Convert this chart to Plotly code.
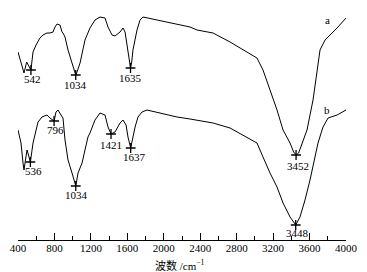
import plotly.graph_objects as go

# Curve a (wavenumber cm-1, relative transmittance)
wn_a = [400, 433, 450, 466, 495, 515, 542, 565, 598, 641, 674, 718, 751, 784, 806, 828, 861, 883, 894, 916,
        949, 993, 1022, 1034, 1048, 1081, 1135, 1190, 1245, 1300, 1355, 1388, 1432, 1465, 1520, 1553, 1575,
        1607, 1625, 1635, 1648, 1662, 1706, 1739, 1772, 1827, 1959, 2145, 2288, 2365, 2541, 2727, 2914,
        3023, 3089, 3166, 3243, 3309, 3386, 3425, 3452, 3480, 3517, 3572, 3638, 3682, 3715, 3770, 3825,
        3902, 4000]
t_a = [188, 178, 173, 167, 178, 174, 170, 188, 195, 202, 205, 207, 207, 208, 213, 216, 215, 208, 207, 203,
       190, 177, 170, 165, 168, 177, 200, 212, 220, 223, 222, 213, 205, 204, 208, 212, 208,
       190, 177, 172, 178, 190, 210, 220, 223, 222, 219, 216, 213, 210, 207, 198, 188,
       182, 170, 150, 130, 110, 97, 88, 85, 87, 97, 110, 140, 167, 190, 200, 205,
       212, 222]

# Curve b
wn_b = [400, 433, 455, 466, 482, 499, 515, 536, 565, 598, 620, 663, 718, 751, 796, 817, 839, 872, 894, 916,
        949, 993, 1015, 1034, 1059, 1103, 1135, 1168, 1190, 1245, 1300, 1355, 1388, 1421, 1465, 1520, 1553,
        1586, 1607, 1637, 1662, 1685, 1717, 1761, 1816, 1959, 2145, 2288, 2365, 2541, 2727, 2914, 3023,
        3089, 3166, 3243, 3309, 3386, 3448, 3495, 3550, 3605, 3660, 3693, 3737, 3748, 3803, 3902, 4000]
t_b = [110, 97, 77, 70, 80, 90, 85, 78, 97, 110, 118, 123, 125, 122, 119, 128, 130, 125, 122, 100,
       80, 67, 60, 54, 67, 77, 90, 103, 107, 120, 127, 125, 113, 106, 108, 117, 120,
       115, 103, 92, 103, 113, 123, 128, 130, 127, 123, 121, 120, 117, 112, 103, 97,
       83, 67, 53, 37, 23, 15, 23, 40, 60, 83, 97, 110, 113, 122, 125, 130]

peaks_a = [542, 1034, 1635, 3452]
peaks_b = [536, 796, 1034, 1421, 1637, 3448]

tick_vals = [400, 800, 1200, 1600, 2000, 2400, 2800, 3200, 3600, 4000]
tick_text = ["400", "800", "1200", "1600", "2000", "2400", "2800", "3200", "3600", "4000"]

FONT = "Liberation Serif, Times New Roman, Noto Sans CJK SC, serif"

fig = go.Figure()
fig.add_trace(go.Scatter(x=wn_a, y=t_a, mode="lines", line=dict(color="black", width=1), showlegend=False))
fig.add_trace(go.Scatter(x=wn_b, y=t_b, mode="lines", line=dict(color="black", width=1), showlegend=False))

def yat(xs, ys, x0):
    return ys[xs.index(x0)]

pa_y = [yat(wn_a, t_a, p) for p in peaks_a]
pb_y = [yat(wn_b, t_b, p) for p in peaks_b]
fig.add_trace(go.Scatter(x=peaks_a + peaks_b, y=pa_y + pb_y, mode="markers",
                         marker=dict(symbol="cross-thin", size=7, line=dict(color="black", width=1.3)),
                         showlegend=False))

shifts_a = [(2, -9), (0, -10), (0, -10), (2, -11)]
shifts_b = [(3, -9), (1, -9), (1, -9), (0, -11), (4, -9), (2, -8)]
for p, y, (dx, dy) in zip(peaks_a, pa_y, shifts_a):
    fig.add_annotation(x=p, y=y, text=str(p), showarrow=False, xshift=dx, yshift=dy,
                       font=dict(family=FONT, size=11, color="black"))
for p, y, (dx, dy) in zip(peaks_b, pb_y, shifts_b):
    fig.add_annotation(x=p, y=y, text=str(p), showarrow=False, xshift=dx, yshift=dy,
                       font=dict(family=FONT, size=11, color="black"))

fig.add_annotation(x=3792, y=220, text="a", showarrow=False, font=dict(family=FONT, size=11, color="black"))
fig.add_annotation(x=3792, y=130, text="b", showarrow=False, font=dict(family=FONT, size=11, color="black"))

# x-axis title
fig.add_annotation(x=0.5, y=0, xref="paper", yref="paper", yanchor="middle", yshift=-25, xshift=-2,
                   text="波数 /cm<sup>−1</sup>", showarrow=False,
                   font=dict(family=FONT, size=11, color="black"))

fig.update_layout(
    width=367, height=272,
    margin=dict(l=18, r=21, t=0, b=32),
    paper_bgcolor="white", plot_bgcolor="white",
    font=dict(family=FONT, size=11, color="black"),
    xaxis=dict(range=[400, 4000], showgrid=False, zeroline=False, showline=True, linecolor="black",
               linewidth=1, ticks="inside", ticklen=7, tickwidth=1, tickcolor="black",
               tickvals=tick_vals, ticktext=tick_text, ticklabelstandoff=-2,
               minor=dict(ticks="inside", ticklen=4, dtick=200, tick0=400, tickcolor="black", showgrid=False)),
    yaxis=dict(range=[0, 240], visible=False),
)

fig.write_html("out.html", config={"displayModeBar": False},
               post_script="document.body.style.margin='0';document.body.style.overflow='hidden';")
